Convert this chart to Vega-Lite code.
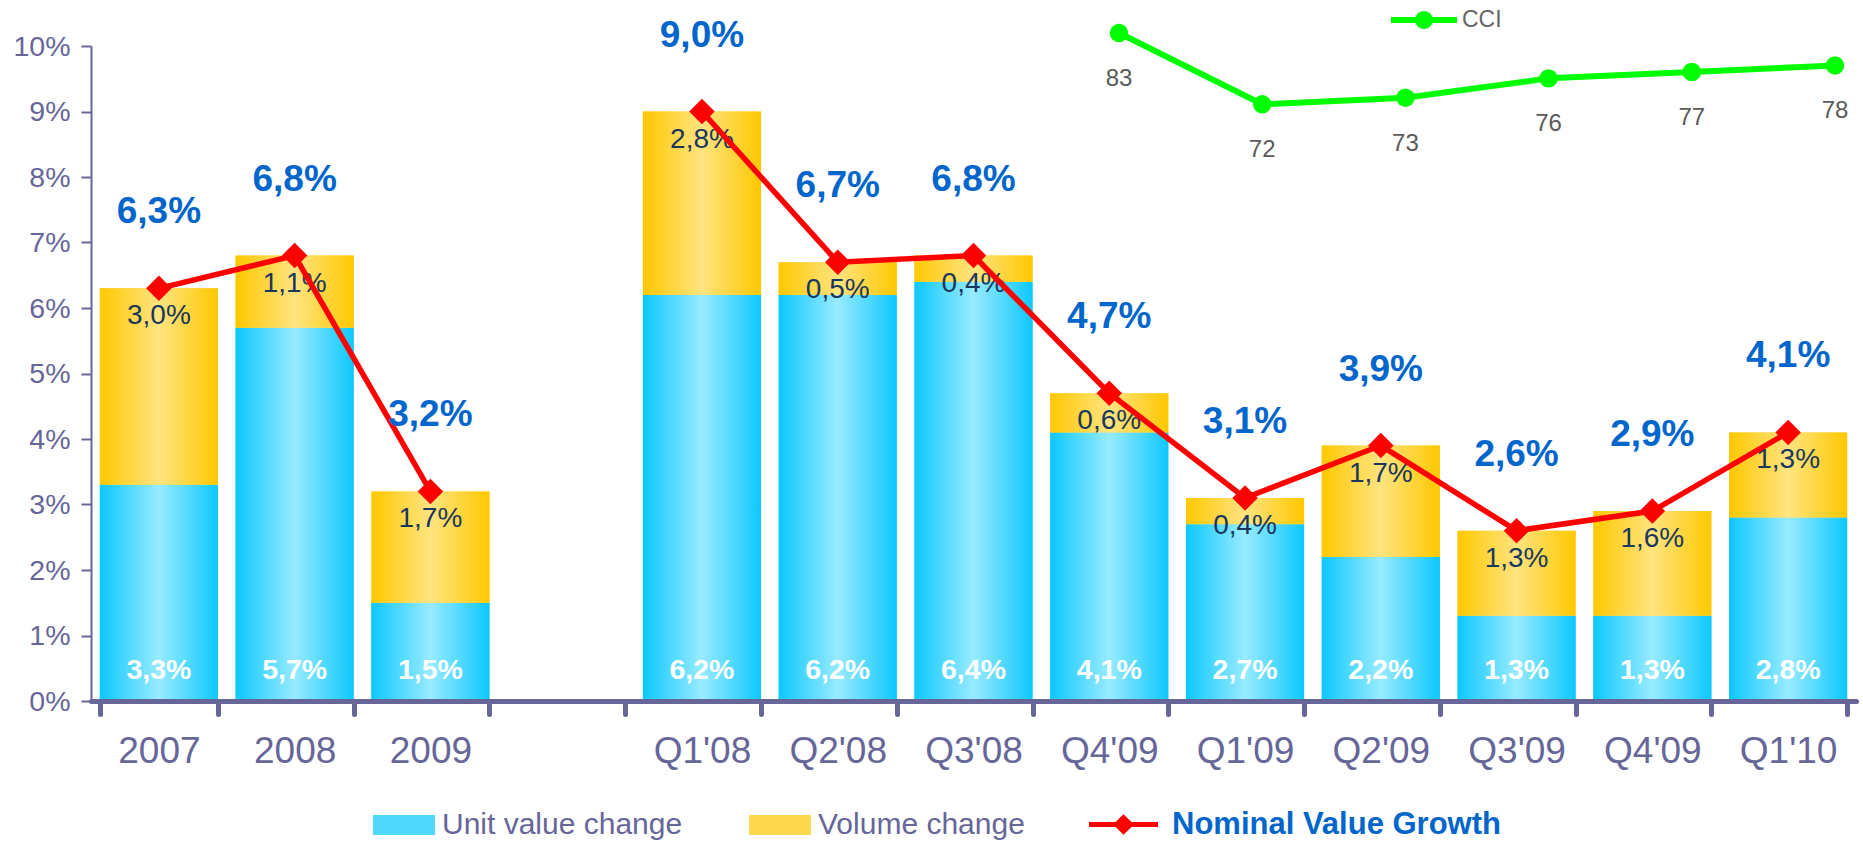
{
  "$schema": "https://vega.github.io/schema/vega-lite/v6.json",
  "width": 1765,
  "height": 655,
  "autosize": {"type": "none"},
  "padding": {"left": 91, "top": 46, "right": 7, "bottom": 143},
  "background": "white",
  "config": {
    "font": "Liberation Sans",
    "view": {"stroke": null},
    "locale": {"number": {"decimal": ",", "thousands": ".", "grouping": [3], "currency": ["", " €"]}}
  },
  "data": {
    "values": [
      {"cat": "2007", "grp": "a", "Unit value change": 0.033, "Volume change": 0.030, "total": 0.063},
      {"cat": "2008", "grp": "a", "Unit value change": 0.057, "Volume change": 0.011, "total": 0.068},
      {"cat": "2009", "grp": "a", "Unit value change": 0.015, "Volume change": 0.017, "total": 0.032},
      {"cat": "Q1'08", "grp": "q", "Unit value change": 0.062, "Volume change": 0.028, "total": 0.090},
      {"cat": "Q2'08", "grp": "q", "Unit value change": 0.062, "Volume change": 0.005, "total": 0.067},
      {"cat": "Q3'08", "grp": "q", "Unit value change": 0.064, "Volume change": 0.004, "total": 0.068},
      {"cat": "Q4'09 ", "grp": "q", "Unit value change": 0.041, "Volume change": 0.006, "total": 0.047, "cci": 83},
      {"cat": "Q1'09", "grp": "q", "Unit value change": 0.027, "Volume change": 0.004, "total": 0.031, "cci": 72},
      {"cat": "Q2'09", "grp": "q", "Unit value change": 0.022, "Volume change": 0.017, "total": 0.039, "cci": 73},
      {"cat": "Q3'09", "grp": "q", "Unit value change": 0.013, "Volume change": 0.013, "total": 0.026, "cci": 76},
      {"cat": "Q4'09", "grp": "q", "Unit value change": 0.013, "Volume change": 0.016, "total": 0.029, "cci": 77},
      {"cat": "Q1'10", "grp": "q", "Unit value change": 0.028, "Volume change": 0.013, "total": 0.041, "cci": 78}
    ]
  },
  "resolve": {"scale": {"x": "independent", "y": "independent"}, "axis": {"x": "independent", "y": "independent"}},
  "layer": [
    {
      "encoding": {
        "x": {
          "field": "cat", "type": "nominal",
          "scale": {"domain": ["2007", "2008", "2009", " ", "Q1'08", "Q2'08", "Q3'08", "Q4'09 ", "Q1'09", "Q2'09", "Q3'09", "Q4'09", "Q1'10"], "paddingInner": 0.13, "paddingOuter": 0.065},
          "axis": {
            "title": null, "labelExpr": "trim(datum.label)", "labelAngle": 0,
            "labelFontSize": 37, "labelColor": "#666699", "labelPadding": 19,
            "domainColor": "#666699", "domainWidth": 5, "domainCap": "round",
            "tickColor": "#666699", "tickWidth": 5, "tickSize": 13, "tickBand": "extent", "tickCap": "round",
            "zindex": 1
          }
        }
      },
      "layer": [
        {
          "transform": [{"fold": ["Unit value change", "Volume change"], "as": ["series", "value"]}],
          "mark": {"type": "bar"},
          "encoding": {
            "y": {
              "field": "value", "type": "quantitative", "stack": "zero",
              "scale": {"domain": [0, 0.1], "nice": false},
              "axis": {
                "title": null, "values": [0, 0.01, 0.02, 0.03, 0.04, 0.05, 0.06, 0.07, 0.08, 0.09, 0.1],
                "format": ".0%", "grid": false,
                "labelFontSize": 28.5, "labelColor": "#666699", "labelPadding": 11,
                "domainColor": "#666699", "domainWidth": 2,
                "tickColor": "#666699", "tickWidth": 2, "tickSize": 10
              }
            },
            "fill": {
              "field": "series", "type": "nominal",
              "scale": {"domain": ["Unit value change", "Volume change"], "range": ["#4fd8fe", "#ffd84d"]},
              "legend": {
                "orient": "none", "legendX": 282, "legendY": 748, "direction": "horizontal", "title": null,
                "symbolType": "M-1,-0.32H1V0.32H-1Z", "symbolSize": 3844, "symbolStrokeWidth": 0,
                "labelFontSize": 30, "labelColor": "#666699", "labelOffset": 7, "labelLimit": 600, "columnPadding": 66, "padding": 0,
                "encode": {"symbols": {"update": {"fill": [
                  {"test": "datum.label === 'Unit value change'", "value": {"gradient": "linear", "x1": 0, "y1": 0, "x2": 1, "y2": 0, "stops": [{"offset": 0, "color": "#0cc8fd"}, {"offset": 0.5, "color": "#98ebff"}, {"offset": 1, "color": "#0cc8fd"}]}},
                  {"value": {"gradient": "linear", "x1": 0, "y1": 0, "x2": 1, "y2": 0, "stops": [{"offset": 0, "color": "#ffc800"}, {"offset": 0.5, "color": "#ffe480"}, {"offset": 1, "color": "#ffc800"}]}}
                ]}}}
              }
            },
            "order": {"field": "series"}
          }
        },
        {
          "mark": {"type": "bar", "color": {"gradient": "linear", "x1": 0, "y1": 0, "x2": 1, "y2": 0, "stops": [{"offset": 0, "color": "#0cc8fd"}, {"offset": 0.5, "color": "#98ebff"}, {"offset": 1, "color": "#0cc8fd"}]}},
          "encoding": {
            "y": {"field": "Unit value change", "type": "quantitative"}
          }
        },
        {
          "mark": {"type": "bar", "color": {"gradient": "linear", "x1": 0, "y1": 0, "x2": 1, "y2": 0, "stops": [{"offset": 0, "color": "#ffc800"}, {"offset": 0.5, "color": "#ffe480"}, {"offset": 1, "color": "#ffc800"}]}},
          "encoding": {
            "y": {"field": "Unit value change", "type": "quantitative"},
            "y2": {"field": "total"}
          }
        },
        {
          "mark": {"type": "text", "baseline": "middle", "dy": 28, "fontSize": 28, "color": "#1b365d"},
          "encoding": {
            "y": {"field": "total", "type": "quantitative"},
            "text": {"field": "Volume change", "type": "quantitative", "format": ".1%"}
          }
        },
        {
          "mark": {"type": "text", "baseline": "middle", "dy": -31, "fontSize": 28.5, "fontWeight": "bold", "color": "#ffffff"},
          "encoding": {
            "y": {"datum": 0, "type": "quantitative"},
            "text": {"field": "Unit value change", "type": "quantitative", "format": ".1%"}
          }
        },
        {
          "mark": {"type": "line", "strokeWidth": 5.5},
          "encoding": {
            "y": {"field": "total", "type": "quantitative"},
            "detail": {"field": "grp"},
            "stroke": {
              "datum": "Nominal Value Growth",
              "scale": {"range": ["#ff0000"]},
              "legend": {
                "orient": "none", "legendX": 998, "legendY": 744, "title": null,
                "symbolType": "M-1,-0.07H-0.23L0,-0.3L0.23,-0.07H1V0.07H0.23L0,0.3L-0.23,0.07H-1Z",
                "symbolSize": 4761, "symbolStrokeWidth": 0, "symbolFillColor": "#ff0000",
                "labelFontSize": 31, "labelFontWeight": "bold", "labelColor": "#0066cc", "labelOffset": 14, "labelLimit": 600, "padding": 0,
                "encode": {"symbols": {"update": {"fill": {"value": "#ff0000"}, "strokeWidth": {"value": 0}}}}
              }
            }
          }
        },
        {
          "mark": {"type": "point", "shape": "diamond", "filled": true, "color": "#ff0000", "size": 650, "opacity": 1},
          "encoding": {"y": {"field": "total", "type": "quantitative"}}
        },
        {
          "mark": {"type": "text", "baseline": "middle", "dy": -76, "fontSize": 37, "fontWeight": "bold", "color": "#0066cc"},
          "encoding": {
            "y": {"field": "total", "type": "quantitative"},
            "text": {"field": "total", "type": "quantitative", "format": ".1%"}
          }
        }
      ]
    },
    {
      "transform": [{"filter": "isValid(datum.cci)"}],
      "encoding": {
        "x": {
          "field": "cat", "type": "nominal",
          "scale": {"type": "point", "domain": ["Q4'09 ", "Q1'09", "Q2'09", "Q3'09", "Q4'09", "Q1'10"], "range": [1028, 1744], "padding": 0},
          "axis": null
        },
        "y": {"field": "cci", "type": "quantitative", "scale": {"domain": [-20.2, 81.0], "nice": false, "zero": false}, "axis": null}
      },
      "layer": [
        {
          "mark": {"type": "line", "strokeWidth": 6},
          "encoding": {
            "color": {
              "datum": "CCI",
              "scale": {"range": ["#00ff00"]},
              "legend": {
                "orient": "none", "legendX": 1300, "legendY": -59, "title": null,
                "symbolType": "M-1,-0.09H1V0.09H-1Z M-0.27,0A0.27,0.27 0 1,1 0.27,0A0.27,0.27 0 1,1 -0.27,0Z",
                "symbolSize": 4356, "symbolStrokeWidth": 0, "symbolFillColor": "#00ff00",
                "labelFontSize": 23, "labelColor": "#666666", "labelOffset": 5, "padding": 0,
                "encode": {"symbols": {"update": {"fill": {"value": "#00ff00"}, "strokeWidth": {"value": 0}}}}
              }
            }
          }
        },
        {
          "mark": {"type": "point", "shape": "circle", "filled": true, "color": "#00ff00", "size": 340, "opacity": 1}
        },
        {
          "mark": {"type": "text", "baseline": "middle", "dy": 46, "fontSize": 24, "color": "#5a5a5a"},
          "encoding": {"text": {"field": "cci", "type": "quantitative", "format": "d"}}
        }
      ]
    }
  ]
}
